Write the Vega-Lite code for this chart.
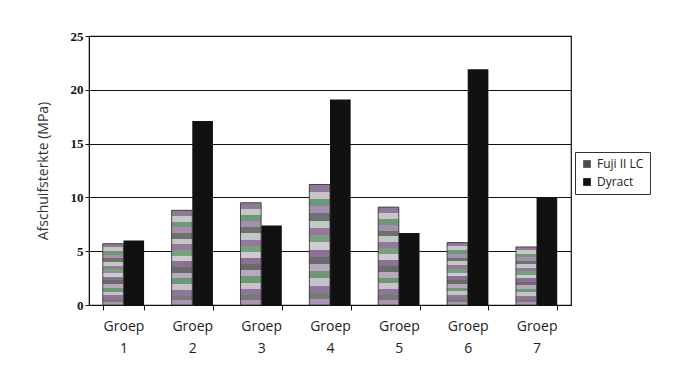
{
  "$schema": "https://vega.github.io/schema/vega-lite/v6.json",
  "width": 482,
  "height": 269,
  "autosize": {"type": "none"},
  "padding": {"left": 89, "top": 36, "right": 103, "bottom": 64},
  "background": "white",
  "config": {
    "view": {"stroke": "#111", "strokeWidth": 1.2},
    "font": "Open Sans"
  },
  "data": {
    "values": [
      {"group": "Groep 1", "series": "Fuji II LC", "value": 5.7},
      {"group": "Groep 1", "series": "Dyract", "value": 6.0},
      {"group": "Groep 2", "series": "Fuji II LC", "value": 8.8},
      {"group": "Groep 2", "series": "Dyract", "value": 17.1},
      {"group": "Groep 3", "series": "Fuji II LC", "value": 9.5},
      {"group": "Groep 3", "series": "Dyract", "value": 7.4},
      {"group": "Groep 4", "series": "Fuji II LC", "value": 11.2},
      {"group": "Groep 4", "series": "Dyract", "value": 19.1},
      {"group": "Groep 5", "series": "Fuji II LC", "value": 9.1},
      {"group": "Groep 5", "series": "Dyract", "value": 6.7},
      {"group": "Groep 6", "series": "Fuji II LC", "value": 5.8},
      {"group": "Groep 6", "series": "Dyract", "value": 21.9},
      {"group": "Groep 7", "series": "Fuji II LC", "value": 5.4},
      {"group": "Groep 7", "series": "Dyract", "value": 10.0}
    ]
  },
  "encoding": {
    "x": {
      "field": "group", "type": "nominal",
      "scale": {"paddingInner": 0.4, "paddingOuter": 0.2},
      "axis": {
        "title": null, "labelAngle": 0, "tickBand": "extent",
        "labelExpr": "split(datum.label, ' ')",
        "labelLineHeight": 22, "labelFontSize": 14, "labelColor": "#222",
        "labelPadding": 9, "tickSize": 5, "tickColor": "#111", "domainColor": "#111",
        "labelFont": "Open Sans"
      }
    },
    "xOffset": {"field": "series", "type": "nominal", "sort": ["Fuji II LC", "Dyract"]},
    "y": {
      "field": "value", "type": "quantitative",
      "scale": {"domain": [0, 25]},
      "axis": {
        "title": "Afschuifsterkte (MPa)", "values": [0, 5, 10, 15, 20, 25],
        "titleFont": "Open Sans", "titleFontWeight": "normal", "titleFontSize": 14, "titleColor": "#333",
        "titlePadding": 20,
        "labelFont": "Liberation Serif", "labelFontWeight": "bold", "labelFontSize": 13, "labelColor": "#111",
        "tickSize": 4, "tickColor": "#111", "domainColor": "#111",
        "gridColor": "#111", "gridOpacity": 1, "gridWidth": 1
      }
    }
  },
  "layer": [
    {
      "mark": {"type": "bar"},
      "encoding": {
        "color": {
          "field": "series", "type": "nominal",
          "scale": {"domain": ["Fuji II LC", "Dyract"], "range": ["#4f4b55", "#111111"]},
          "legend": {
            "title": null, "orient": "none", "legendX": 486, "legendY": 116,
            "symbolType": "square", "symbolSize": 60, "labelFontSize": 12, "labelFont": "Open Sans",
            "labelColor": "#222", "strokeColor": "#333", "padding": 6, "rowPadding": 6
          }
        }
      }
    },
    {
      "transform": [{"filter": "datum.series == 'Fuji II LC'"}],
      "mark": {
        "type": "bar", "stroke": "#333", "strokeWidth": 0.8,
        "fill": {
          "gradient": "linear", "x1": 0, "y1": 0, "x2": 0, "y2": 1,
          "stops": [
            {"offset": 0, "color": "#8c7a96"}, {"offset": 0.06, "color": "#8c7a96"},
            {"offset": 0.06, "color": "#c9c4cc"}, {"offset": 0.12, "color": "#c9c4cc"},
            {"offset": 0.12, "color": "#6f9878"}, {"offset": 0.18, "color": "#6f9878"},
            {"offset": 0.18, "color": "#a58fae"}, {"offset": 0.24, "color": "#a58fae"},
            {"offset": 0.24, "color": "#707070"}, {"offset": 0.3, "color": "#707070"},
            {"offset": 0.3, "color": "#c0c8c2"}, {"offset": 0.36, "color": "#c0c8c2"},
            {"offset": 0.36, "color": "#94799c"}, {"offset": 0.42, "color": "#94799c"},
            {"offset": 0.42, "color": "#76a080"}, {"offset": 0.48, "color": "#76a080"},
            {"offset": 0.48, "color": "#cfc9d2"}, {"offset": 0.54, "color": "#cfc9d2"},
            {"offset": 0.54, "color": "#8a7294"}, {"offset": 0.6, "color": "#8a7294"},
            {"offset": 0.6, "color": "#6a6a6a"}, {"offset": 0.66, "color": "#6a6a6a"},
            {"offset": 0.66, "color": "#b9a9c0"}, {"offset": 0.72, "color": "#b9a9c0"},
            {"offset": 0.72, "color": "#6c9876"}, {"offset": 0.78, "color": "#6c9876"},
            {"offset": 0.78, "color": "#c6c2c8"}, {"offset": 0.84, "color": "#c6c2c8"},
            {"offset": 0.84, "color": "#8d769a"}, {"offset": 0.9, "color": "#8d769a"},
            {"offset": 0.9, "color": "#787878"}, {"offset": 0.95, "color": "#787878"},
            {"offset": 0.95, "color": "#a995b0"}, {"offset": 1, "color": "#a995b0"}
          ]
        }
      }
    }
  ]
}
